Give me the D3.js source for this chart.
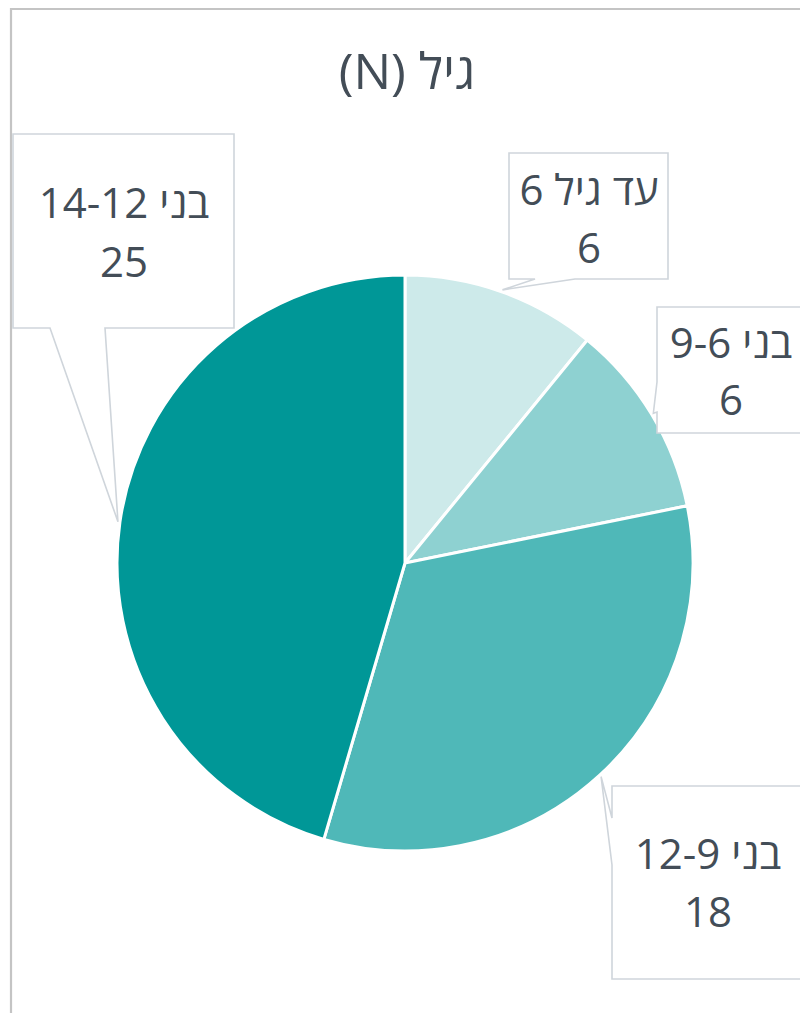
<!DOCTYPE html>
<html><head><meta charset="utf-8">
<script src="https://cdn.jsdelivr.net/npm/d3@7"></script>
<style>html,body{margin:0;padding:0;background:#fff;}svg{display:block;}</style>
</head><body>
<script>
const categories = ["עד גיל 6", "בני 9-6", "בני 12-9", "בני 14-12"];
const values = [6, 6, 18, 25];
const colors = ["#cdeaea", "#8ed1d1", "#4fb8b8", "#009797"];
const title = "גיל (N)";

const W = 800, H = 1013;
const cx = 405, cy = 563, R = 288;
const svg = d3.select("body").append("svg").attr("width", W).attr("height", H);

// chart border
svg.append("path").attr("d", `M11,${H} L11,9 L${W},9`).attr("fill","none")
  .attr("stroke","#c4c4c4").attr("stroke-width",2.2);

svg.append("text").attr("x", 407).attr("y", 89).attr("text-anchor","middle")
  .attr("font-family","Open Sans, sans-serif").attr("font-size",50).attr("fill","#434d57")
  .attr("direction","rtl").text(title);

const pie = d3.pie().sort(null).value(d => d)(values);
const arc = d3.arc().innerRadius(0).outerRadius(R);
const g = svg.append("g").attr("transform", `translate(${cx},${cy})`);
g.selectAll("path").data(pie).join("path").attr("d", arc)
  .attr("fill", (d,i) => colors[i]).attr("stroke","#fff").attr("stroke-width",3).attr("stroke-linejoin","round");

// label boxes (layout)
const boxes = [
  {x:509, y:153, w:159, h:126, side:"bottom", b0:535, b1:575, tx:589, ty:[205,263]},
  {x:657, y:307, w:160, h:126, side:"left", b0:382, b1:412, tx:731, ty:[358,415]},
  {x:612, y:786, w:210, h:193, side:"left", b0:818, b1:865, tx:708, ty:[869,927]},
  {x:13, y:134, w:221, h:194, side:"bottom", b0:50, b1:105, tx:124, ty:[218,277]}
];
pie.forEach((d,i) => {
  const a = (d.startAngle + d.endAngle)/2;
  const tipX = cx + (R+2)*Math.sin(a), tipY = cy - (R+2)*Math.cos(a);
  const b = boxes[i];
  let p;
  if (b.side === "bottom") {
    p = `M${b.x},${b.y} L${b.x+b.w},${b.y} L${b.x+b.w},${b.y+b.h} L${b.b1},${b.y+b.h} L${tipX},${tipY} L${b.b0},${b.y+b.h} L${b.x},${b.y+b.h} Z`;
  } else {
    p = `M${b.x},${b.y} L${b.x+b.w},${b.y} L${b.x+b.w},${b.y+b.h} L${b.x},${b.y+b.h} L${b.x},${b.b1} L${tipX},${tipY} L${b.x},${b.b0} Z`;
  }
  svg.append("path").attr("d", p).attr("fill","#fff").attr("stroke","#cfd5db").attr("stroke-width",1.6);
  const t = svg.append("g").attr("font-family","Open Sans, sans-serif").attr("font-size",42).attr("fill","#434d57").attr("text-anchor","middle");
  t.append("text").attr("x", b.tx).attr("y", b.ty[0]).attr("direction","rtl").text(categories[i] );
  t.append("text").attr("x", b.tx).attr("y", b.ty[1]).text(values[i]);
});
</script>
</body></html>
